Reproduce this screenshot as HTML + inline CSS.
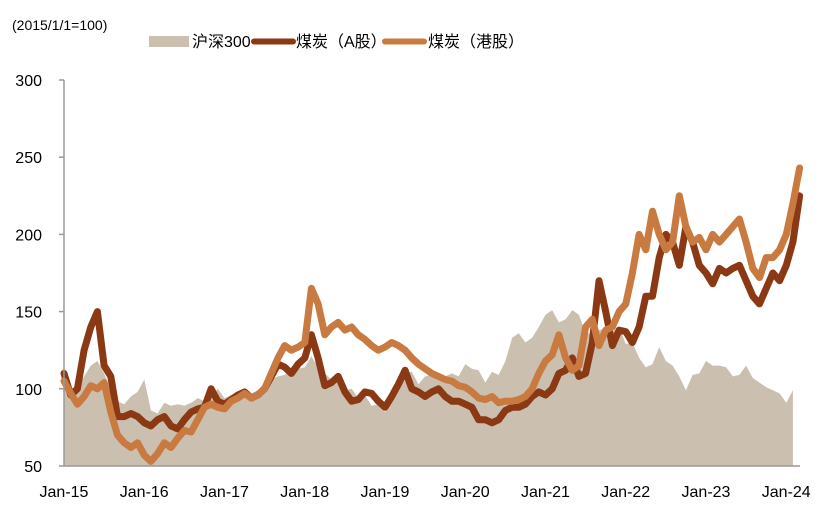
<!DOCTYPE html>
<html><head><meta charset="utf-8"><style>
body{margin:0;background:#fff;}
svg{display:block;font-family:"Liberation Sans","Noto Sans CJK SC",sans-serif;}
</style></head><body>
<svg id="chart" width="829" height="505" viewBox="0 0 829 505">
<text x="12" y="30" font-size="14" fill="#000">(2015/1/1=100)</text>
<g>
<rect x="149" y="36" width="40" height="11" fill="#CBC0B0"/>
<text x="192" y="47" font-size="16">沪深300</text>
<line x1="254" y1="41.5" x2="293" y2="41.5" stroke="#8B3814" stroke-width="6" stroke-linecap="round"/>
<text x="296" y="47" font-size="16">煤炭（A股）</text>
<line x1="385" y1="41.5" x2="424" y2="41.5" stroke="#C97A40" stroke-width="6" stroke-linecap="round"/>
<text x="428" y="47" font-size="16">煤炭（港股）</text>
</g>
<g id="plot"></g>
</svg>
<script>
const yTicks=[50,100,150,200,250,300];
const xTickLabels=["Jan-15","Jan-16","Jan-17","Jan-18","Jan-19","Jan-20","Jan-21","Jan-22","Jan-23","Jan-24"];
const csi300=[100,97,100,108,115,118,110,100,92,90,95,98,106,86,84,91,89,90,89,91,94,92,94,100,94,96,98,98,97,99,104,106,108,109,113,113,114,121,114,110,106,108,99,100,94,96,89,90,85,91,104,110,111,103,108,109,108,108,110,108,116,113,112,104,111,109,118,133,136,130,133,140,148,151,143,145,151,148,136,136,138,139,137,140,129,130,120,114,116,127,118,115,108,99,109,110,118,115,115,114,108,109,115,107,104,101,99,97,91,99];
const coalA=[110,96,100,125,140,150,115,108,82,82,84,82,78,76,80,82,76,74,80,85,87,88,100,92,90,93,96,98,94,96,100,108,116,114,110,116,120,135,120,102,104,108,98,92,93,98,97,92,88,95,103,112,100,98,95,98,100,95,92,92,90,88,80,80,78,80,86,88,88,90,95,98,96,100,110,112,120,108,110,130,170,150,128,138,137,130,140,160,160,185,200,195,180,205,195,180,175,168,178,175,178,180,170,160,155,165,175,170,180,195,225];
const coalHK=[105,97,90,95,102,100,104,85,70,65,62,65,57,53,58,65,62,68,73,72,80,88,90,88,87,92,94,97,94,96,100,110,120,128,125,127,130,165,155,135,140,143,138,140,135,132,128,125,127,130,128,125,120,116,113,110,108,106,105,102,101,98,94,93,95,91,92,92,93,95,100,110,118,122,135,120,112,115,140,145,128,138,140,150,155,175,200,190,215,200,190,195,225,205,195,198,190,200,195,200,205,210,195,178,172,185,185,190,200,220,243];
const x0=64, pxPerYear=80.25, yBottom=466, yTop=80, vMin=50, vMax=300;
function xs(m){return x0+pxPerYear*m/12;}
function ys(v){return yBottom-(v-vMin)*(yBottom-yTop)/(vMax-vMin);}
const NS="http://www.w3.org/2000/svg";
const plot=document.getElementById('plot');
function mk(tag,attrs){const e=document.createElementNS(NS,tag);for(const k in attrs)e.setAttribute(k,attrs[k]);return e;}
let d="M"+xs(0)+","+yBottom;
csi300.forEach((v,i)=>{d+=" L"+xs(i).toFixed(1)+","+ys(v).toFixed(1);});
d+=" L"+xs(csi300.length-1).toFixed(1)+","+yBottom+" Z";
const area=mk('path',{d:d,fill:"#CBC0B0"});


plot.appendChild(area);
function line(arr,color){let p="";arr.forEach((v,i)=>{p+=(i?" L":"M")+xs(i).toFixed(1)+","+ys(v).toFixed(1);});return mk('path',{d:p,fill:"none",stroke:color,"stroke-width":7,"stroke-linejoin":"round","stroke-linecap":"round"});}
const la=line(coalA,"#8B3814");


plot.appendChild(la);
const lh=line(coalHK,"#C97A40");


plot.appendChild(lh);
const ya=mk('line',{x1:x0,y1:yTop,x2:x0,y2:yBottom,stroke:"#999","stroke-width":1.5});


plot.appendChild(ya);
const xa=mk('line',{x1:x0,y1:yBottom,x2:800,y2:yBottom,stroke:"#999","stroke-width":1.5});


plot.appendChild(xa);
yTicks.forEach(v=>{
 const t=mk('line',{x1:x0-5,y1:ys(v),x2:x0,y2:ys(v),stroke:"#999","stroke-width":1.5});
 
 
 plot.appendChild(t);
 const l=mk('text',{x:42,y:ys(v)+6,"font-size":16,"text-anchor":"end"});
 
 
 l.textContent=v;plot.appendChild(l);
});
xTickLabels.forEach((s,i)=>{
 const l=mk('text',{x:xs(i*12),y:497,"font-size":16,"text-anchor":"middle"});
 
 
 l.textContent=s;plot.appendChild(l);
});
</script>
</body></html>
